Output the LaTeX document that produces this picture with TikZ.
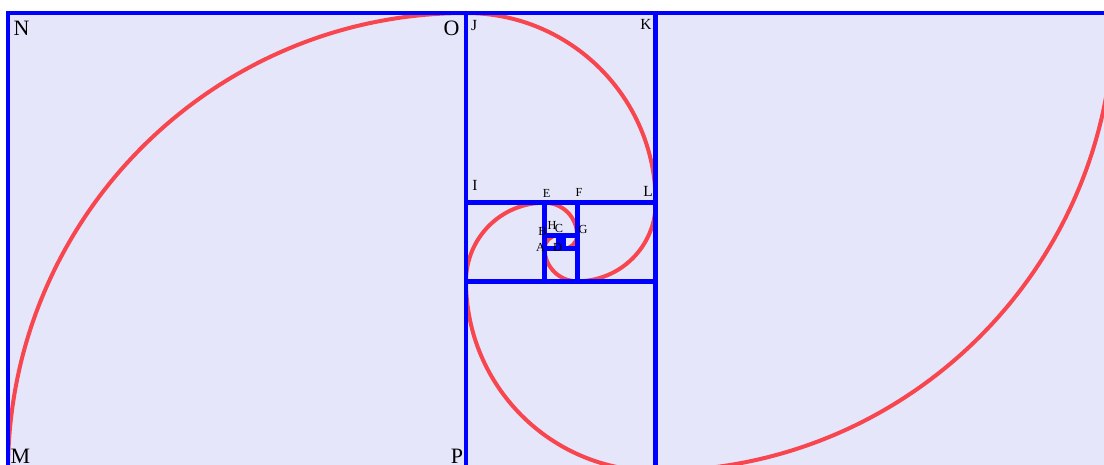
\documentclass[tikz,border=0pt]{standalone}
\usepackage{fontspec}
\setmainfont{Liberation Serif}

\definecolor{lavbg}{RGB}{230,230,250}
\definecolor{spiralred}{RGB}{247,70,78}

\tikzset{
  sqline/.style={draw=blue,line width=0.095cm},
  spiral/.style={draw=spiralred,line width=0.08cm},
  biglab/.style={inner sep=0pt,font=\fontsize{12.5}{12.5}\selectfont},
  midlab/.style={inner sep=0pt,font=\fontsize{8.8}{8.8}\selectfont},
  smalllab/.style={inner sep=0pt,font=\fontsize{7}{7}\selectfont},
}

\begin{document}
\begin{tikzpicture}[x=0.02cm,y=0.02cm]
  \useasboundingbox (0,0) rectangle (1104,-465);
  \clip (0,0) rectangle (1104,-465);
  \fill[lavbg] (8,-13) rectangle (1113.71,-471);
  % spiral: one branch, then the same turned half way round the centre
  \foreach \turn in {0,180}{
    \begin{scope}[rotate around={\turn:(560.855,-242)}]
      \draw[spiral] (8,-471) arc[start angle=180,end angle=90,radius=458]
        arc[start angle=90,end angle=0,radius=189.71]
        arc[start angle=0,end angle=-90,radius=78.58]
        arc[start angle=-90,end angle=-180,radius=32.55]
        arc[start angle=180,end angle=90,radius=13.48]
        arc[start angle=90,end angle=0,radius=5.585]
        arc[start angle=0,end angle=-90,radius=2.313];
    \end{scope}
  }
  % squares
  \foreach \turn in {0,180}{
    \begin{scope}[rotate around={\turn:(560.855,-242)}]
      \draw[sqline] (8,-13) rectangle (466,-471);
      \draw[sqline] (466,-13) rectangle (655.71,-202.71);
      \draw[sqline] (577.13,-202.71) rectangle (655.71,-281.29);
      \draw[sqline] (544.58,-248.74) rectangle (577.13,-281.29);
      \draw[sqline] (544.58,-235.26) rectangle (558.06,-248.74);
      \draw[sqline] (558.06,-235.26) rectangle (563.65,-240.85);
    \end{scope}
  }
  % corner labels
  \node[biglab] (labN) at (21.5,-28) {N};
  \node[biglab] (labO) at (451.5,-28.5) {O};
  \node[biglab] (labM) at (20.5,-456) {M};
  \node[biglab] (labP) at (457,-456) {P};
  \node[midlab] (labJ) at (474,-25.5) {J};
  \node[midlab] (labK) at (646,-24) {K};
  \node[midlab] (labI) at (475,-185.5) {I};
  \node[midlab] (labL) at (648,-191) {L};
  \node[smalllab] (labE) at (546.5,-193) {E};
  \node[smalllab] (labF) at (579,-192) {F};
  \node[smalllab] (labG) at (583,-229) {G};
  \node[smalllab] (labH) at (552,-225.5) {H};
  \node[smalllab] (labB) at (542.5,-231) {B};
  \node[smalllab] (labC) at (559,-228.5) {C};
  \node[smalllab] (labA) at (540.5,-247) {A};
  \node[smalllab] (labD) at (557.5,-247) {D};
\end{tikzpicture}
\end{document}
